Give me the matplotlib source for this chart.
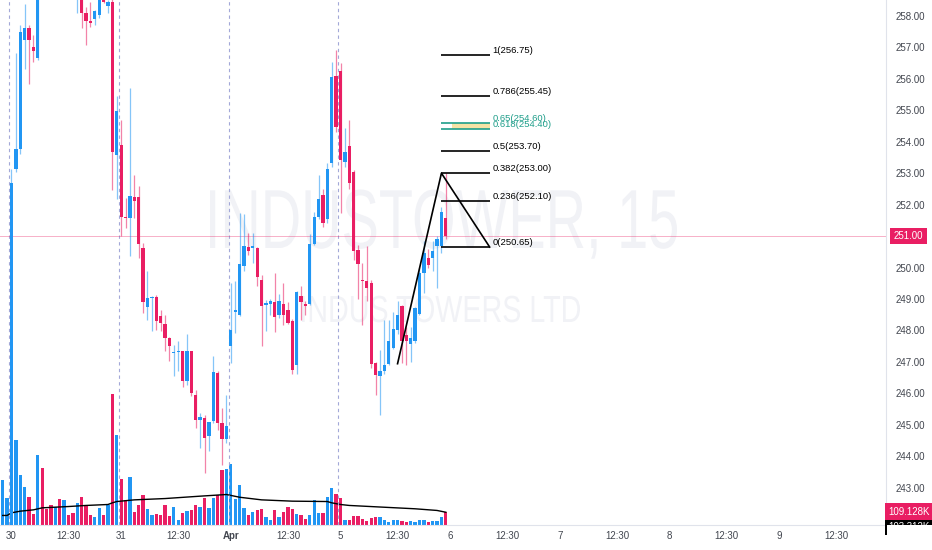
import matplotlib
matplotlib.use("Agg")
import numpy as np
import matplotlib.pyplot as plt
from matplotlib import font_manager
from matplotlib.font_manager import FontProperties
from matplotlib.patches import Rectangle, PathPatch
from matplotlib.textpath import TextPath
from matplotlib.transforms import blended_transform_factory, Affine2D, IdentityTransform


# Police étroite si disponible
noms = {f.name for f in font_manager.fontManager.ttflist}
police = "Liberation Sans Narrow" if "Liberation Sans Narrow" in noms else "Liberation Sans"
plt.rcParams["font.family"] = [police, "DejaVu Sans"]

BLEU = "#2196f3"
ROUGE = "#e91e63"
GRIS = "#42464f"
TAILLE = 7

# Bougies 15 min (index de barre = position)
ouv = [239.6, 239.8, 240.0, 253.14, 253.77, 257.24, 257.61, 257.01, 256.66, 259.40,
       259.00, 258.90, 258.70, 259.10, 258.90, 259.40, 259.20, 258.90, 259.10, 258.09,
       257.85, 257.90, 258.03, 258.60, 258.33, 258.45, 253.57, 253.90, 251.62, 251.57,
       252.24, 252.24, 250.63, 248.74, 249.02, 249.06, 248.45, 248.20, 247.76, 247.28,
       247.31, 247.33, 246.38, 247.33, 245.96, 245.16, 245.22, 244.64, 245.11, 246.65,
       245.06, 244.53, 247.49, 248.60, 248.50, 250.06, 250.65, 250.63, 250.62, 249.61,
       248.82, 248.84, 248.89, 248.50, 248.85, 248.66, 248.29, 246.89, 249.10, 248.85,
       248.85, 250.75, 251.62, 252.31, 251.55, 253.32, 256.09, 256.26, 253.34, 253.87,
       253.05, 250.56, 249.61, 249.56, 249.51, 246.96, 246.54, 246.70, 246.94, 247.44,
       248.02, 248.76, 247.86, 247.58, 247.65, 248.53, 249.82, 250.30, 250.30, 250.67,
       250.67, 251.57]
haut = [240.0, 240.2, 253.14, 256.81, 257.71, 258.38, 257.71, 257.40, 259.60, 259.80,
        259.30, 259.20, 259.30, 259.40, 259.60, 259.60, 259.40, 259.30, 259.20, 258.30,
        258.45, 258.20, 258.90, 258.80, 258.50, 258.60, 255.44, 254.70, 252.21, 255.70,
        252.95, 252.58, 250.79, 249.88, 249.10, 249.13, 248.66, 248.50, 247.80, 247.55,
        247.65, 247.35, 247.87, 247.35, 246.10, 245.37, 245.32, 245.10, 247.17, 246.70,
        245.53, 245.96, 249.50, 249.56, 251.73, 251.69, 251.10, 251.10, 250.66, 249.77,
        248.97, 249.00, 249.84, 249.16, 249.50, 248.90, 248.35, 249.25, 249.40, 248.95,
        251.05, 251.78, 252.95, 252.50, 253.32, 256.55, 256.92, 256.50, 254.43, 254.70,
        253.10, 250.70, 250.14, 250.67, 249.60, 247.00, 247.39, 248.34, 248.34, 248.60,
        248.92, 248.80, 248.10, 248.10, 248.75, 250.00, 250.83, 250.60, 250.83, 251.00,
        251.94, 253.00]
bas = [239.2, 239.5, 239.8, 253.05, 253.62, 256.31, 255.84, 256.55, 256.60, 258.80,
       258.70, 258.60, 258.60, 258.80, 258.80, 259.00, 258.70, 258.09, 257.61, 257.08,
       257.66, 257.71, 257.95, 258.40, 258.09, 252.47, 252.17, 251.00, 251.25, 250.35,
       251.57, 250.31, 248.55, 248.32, 247.97, 248.00, 247.97, 247.33, 247.02, 246.54,
       246.70, 246.20, 246.27, 245.90, 244.90, 244.26, 243.47, 244.16, 245.05, 244.84,
       243.73, 244.42, 246.96, 247.92, 248.45, 249.90, 250.40, 250.14, 249.40, 247.49,
       247.97, 248.50, 247.94, 248.40, 248.18, 248.20, 246.60, 246.60, 248.34, 248.50,
       248.80, 250.70, 251.55, 251.30, 251.40, 253.20, 254.30, 251.73, 253.20, 252.50,
       250.25, 249.00, 248.18, 248.92, 246.80, 245.96, 245.32, 246.60, 246.90, 247.40,
       247.90, 246.96, 246.90, 247.00, 247.60, 248.50, 249.20, 250.00, 249.90, 249.36,
       250.47, 250.90]
clo = [239.8, 240.0, 252.70, 253.77, 257.50, 257.61, 257.24, 256.89, 259.40, 259.00,
       258.90, 258.70, 259.10, 258.90, 259.40, 259.20, 258.90, 259.10, 258.09, 257.85,
       257.79, 258.16, 258.70, 258.45, 258.45, 253.66, 254.99, 251.62, 251.57, 252.28,
       252.13, 250.75, 248.89, 249.03, 249.06, 248.29, 248.24, 247.76, 247.49, 247.32,
       247.35, 246.38, 247.33, 246.01, 245.16, 245.24, 244.58, 245.08, 246.68, 245.06,
       244.53, 244.95, 248.00, 248.65, 250.11, 250.67, 250.54, 250.69, 249.70, 248.78,
       248.86, 248.94, 248.44, 248.94, 248.50, 248.24, 246.75, 249.21, 248.89, 248.79,
       250.76, 251.62, 252.18, 251.43, 253.13, 256.05, 254.46, 253.42, 253.66, 252.70,
       250.51, 250.12, 249.57, 249.35, 246.94, 246.59, 246.70, 246.91, 247.65, 248.04,
       248.50, 247.65, 247.65, 247.76, 248.71, 249.82, 250.46, 250.09, 250.51, 250.90,
       251.75, 251.00]

# Volume en milliers
volume_k = [370, 224, 504, 706, 420, 319, 229, 90, 588, 476,
            132, 165, 145, 216, 207, 81, 98, 182, 235, 160,
            76, 61, 137, 81, 160, 1098, 753, 384, 202, 403,
            101, 160, 252, 134, 81, 92, 84, 165, 70, 151,
            39, 95, 112, 123, 160, 145, 224, 137, 224, 244,
            454, 468, 510, 216, 328, 140, 76, 103, 123, 132,
            67, 39, 123, 67, 109, 145, 132, 90, 84, 48,
            76, 202, 98, 95, 235, 305, 258, 224, 42, 34,
            70, 70, 48, 28, 53, 61, 67, 39, 19, 34,
            34, 28, 17, 28, 25, 42, 34, 19, 28, 28,
            61, 109.128]

# Moyenne mobile du volume
ma_idx = [0, 1, 2, 4, 7, 9, 15, 19, 24, 25, 26, 30, 37, 45, 51, 54, 59, 66, 74, 75, 77, 79, 87, 94, 99, 101]
ma_k = [76, 76, 98, 112, 123, 140, 151, 160, 168, 182, 193, 207, 218, 238, 252, 229, 207, 196, 193, 182, 168, 160, 145, 132, 118, 103]
ma_dernier = "103.312K"

# Axe du temps
debuts_seance = [2, 27, 52, 77]
pos_heures = [2, 15, 27, 40, 52, 65, 77, 90, 102, 115, 127, 140, 152, 165, 177, 190]
lib_heures = ["30", "12:30", "31", "12:30", "Apr", "12:30", "5", "12:30",
              "6", "12:30", "7", "12:30", "8", "12:30", "9", "12:30"]

# Retracement de Fibonacci + ligne de tendance
fib_niveaux = [1, 0.786, 0.65, 0.618, 0.5, 0.382, 0.236, 0]
fib_prix = [256.75, 255.45, 254.60, 254.40, 253.70, 253.00, 252.10, 250.65]
fib_couleurs = ["black", "black", "#1f9e8a", "#1f9e8a", "black", "black", "black", "black"]
fib_x = [100, 111]
zone_x = [102.35, 111]
tendance_x = [90, 100, 111]
tendance_y = [246.94, 253.00, 250.65]
dernier_prix = 251.00
ticks_prix = [p for p in range(243, 259) if p != dernier_prix]

# Filigrane : texte, boîte en pixels (gauche, droite, hauteur des capitales, ligne de base depuis le haut)
filigrane = [("INDUSTOWER, 15", 210, 677, 60, 248),
             ("INDUS TOWERS LTD", 302, 580, 27, 322)]


o = np.array(ouv)
c = np.array(clo)
x = np.arange(len(o))
couleurs = np.where(c >= o, BLEU, ROUGE)

fig = plt.figure(figsize=(9.32, 5.5), dpi=100)
H = 550
rect = [0, 25.5 / H, 886 / 932, 524.5 / H]
ax_v = fig.add_axes(rect)
ax = fig.add_axes(rect)
ax.patch.set_alpha(0)

# Volume
ax_v.bar(x, volume_k, width=0.75, color=couleurs, linewidth=0)
ax_v.plot(ma_idx, ma_k, color="black", lw=1)
ax_v.set_ylim(0, 524.5 * 8.4)
ax_v.set_xlim(-0.62, 201.34)
ax_v.axis("off")

# Filigrane (texte étiré pour coller aux proportions)
for texte, x0, x1, cap, base in filigrane:
    tp = TextPath((0, 0), texte, size=1, prop=FontProperties(family=police))
    ext = tp.get_extents()
    sx = (x1 - x0) / ext.width
    sy = cap / 0.716
    t = Affine2D().translate(-ext.x0, 0).scale(sx, sy).translate(x0, H - base)
    ax.add_patch(PathPatch(t.transform_path(tp), transform=IdentityTransform(),
                           fc="#f1f2f6", ec="none", zorder=0))

# Séparateurs de séances
for d in debuts_seance:
    ax.axvline(d - 0.5, color="#a3a8d8", lw=0.8, dashes=(3, 3), zorder=1)

ax.axhline(dernier_prix, color=ROUGE, lw=0.7, alpha=0.35, zorder=1)

# Bougies
ax.vlines(x, bas, haut, colors=couleurs, lw=0.9, alpha=0.55, zorder=2)
corps_bas = np.minimum(o, c)
corps_h = np.maximum(np.abs(c - o), 0.035)
ax.bar(x, corps_h, bottom=corps_bas, width=0.75, color=couleurs, linewidth=0, zorder=3)

# Fibonacci
ax.fill_between(zone_x, fib_prix[3], fib_prix[2], color="#f5e3a5", lw=0, zorder=4)
ax.hlines(fib_prix, fib_x[0], fib_x[1], colors=fib_couleurs, lw=1.2, zorder=5)
ax.plot(tendance_x, tendance_y, color="black", lw=1.2, zorder=5)
for niv, prix, coul in zip(fib_niveaux, fib_prix, fib_couleurs):
    ax.annotate(f"{niv:g}({prix:.2f})", (111.7, prix), xytext=(0, 1.5), textcoords="offset points",
                ha="left", va="baseline", fontsize=6.8, color=coul, zorder=6)

ax.set_xlim(-0.62, 201.34)
ax.set_ylim(241.826, 258.508)

# Axes
ax.yaxis.tick_right()
ax.set_yticks(ticks_prix, [f"{p:.2f}" for p in ticks_prix])
ax.tick_params(axis="y", length=0, pad=7, labelsize=TAILLE, labelcolor=GRIS)
ax.set_xticks(pos_heures, lib_heures)
ax.tick_params(axis="x", length=0, pad=5, labelsize=TAILLE, labelcolor=GRIS)
ax.get_xticklabels()[4].set_fontweight("bold")
for s in ["left", "top"]:
    ax.spines[s].set_visible(False)
for s in ["right", "bottom"]:
    ax.spines[s].set_color("#e0e3eb")

# Étiquettes de dernière valeur
tr = blended_transform_factory(ax.transAxes, ax.transData)
ax.annotate(f"{dernier_prix:.2f}", (1, dernier_prix), xycoords=tr, xytext=(5.5, 0),
            textcoords="offset points", ha="left", va="center", fontsize=TAILLE, color="white",
            bbox=dict(boxstyle="square,pad=0.35", fc=ROUGE, ec="none"), annotation_clip=False, zorder=10)
tr_v = blended_transform_factory(ax_v.transAxes, ax_v.transData)
ax.annotate(ma_dernier, (1, volume_k[-1]), xycoords=tr_v, xytext=(2, -11),
            textcoords="offset points", ha="left", va="center", fontsize=TAILLE, color="white",
            bbox=dict(boxstyle="square,pad=0.35", fc="black", ec="none"), annotation_clip=False, zorder=9)
ax.annotate(f"{volume_k[-1]:.3f}K", (1, volume_k[-1]), xycoords=tr_v, xytext=(2, 0),
            textcoords="offset points", ha="left", va="center", fontsize=TAILLE, color="white",
            bbox=dict(boxstyle="square,pad=0.35", fc=ROUGE, ec="none"), annotation_clip=False, zorder=10)
fig.add_artist(Rectangle((886.5 / 932, 0), 46 / 932, 25 / H, transform=fig.transFigure,
                         fc="white", ec="none", zorder=20))

fig.savefig("out.png", dpi=100, facecolor="white")
